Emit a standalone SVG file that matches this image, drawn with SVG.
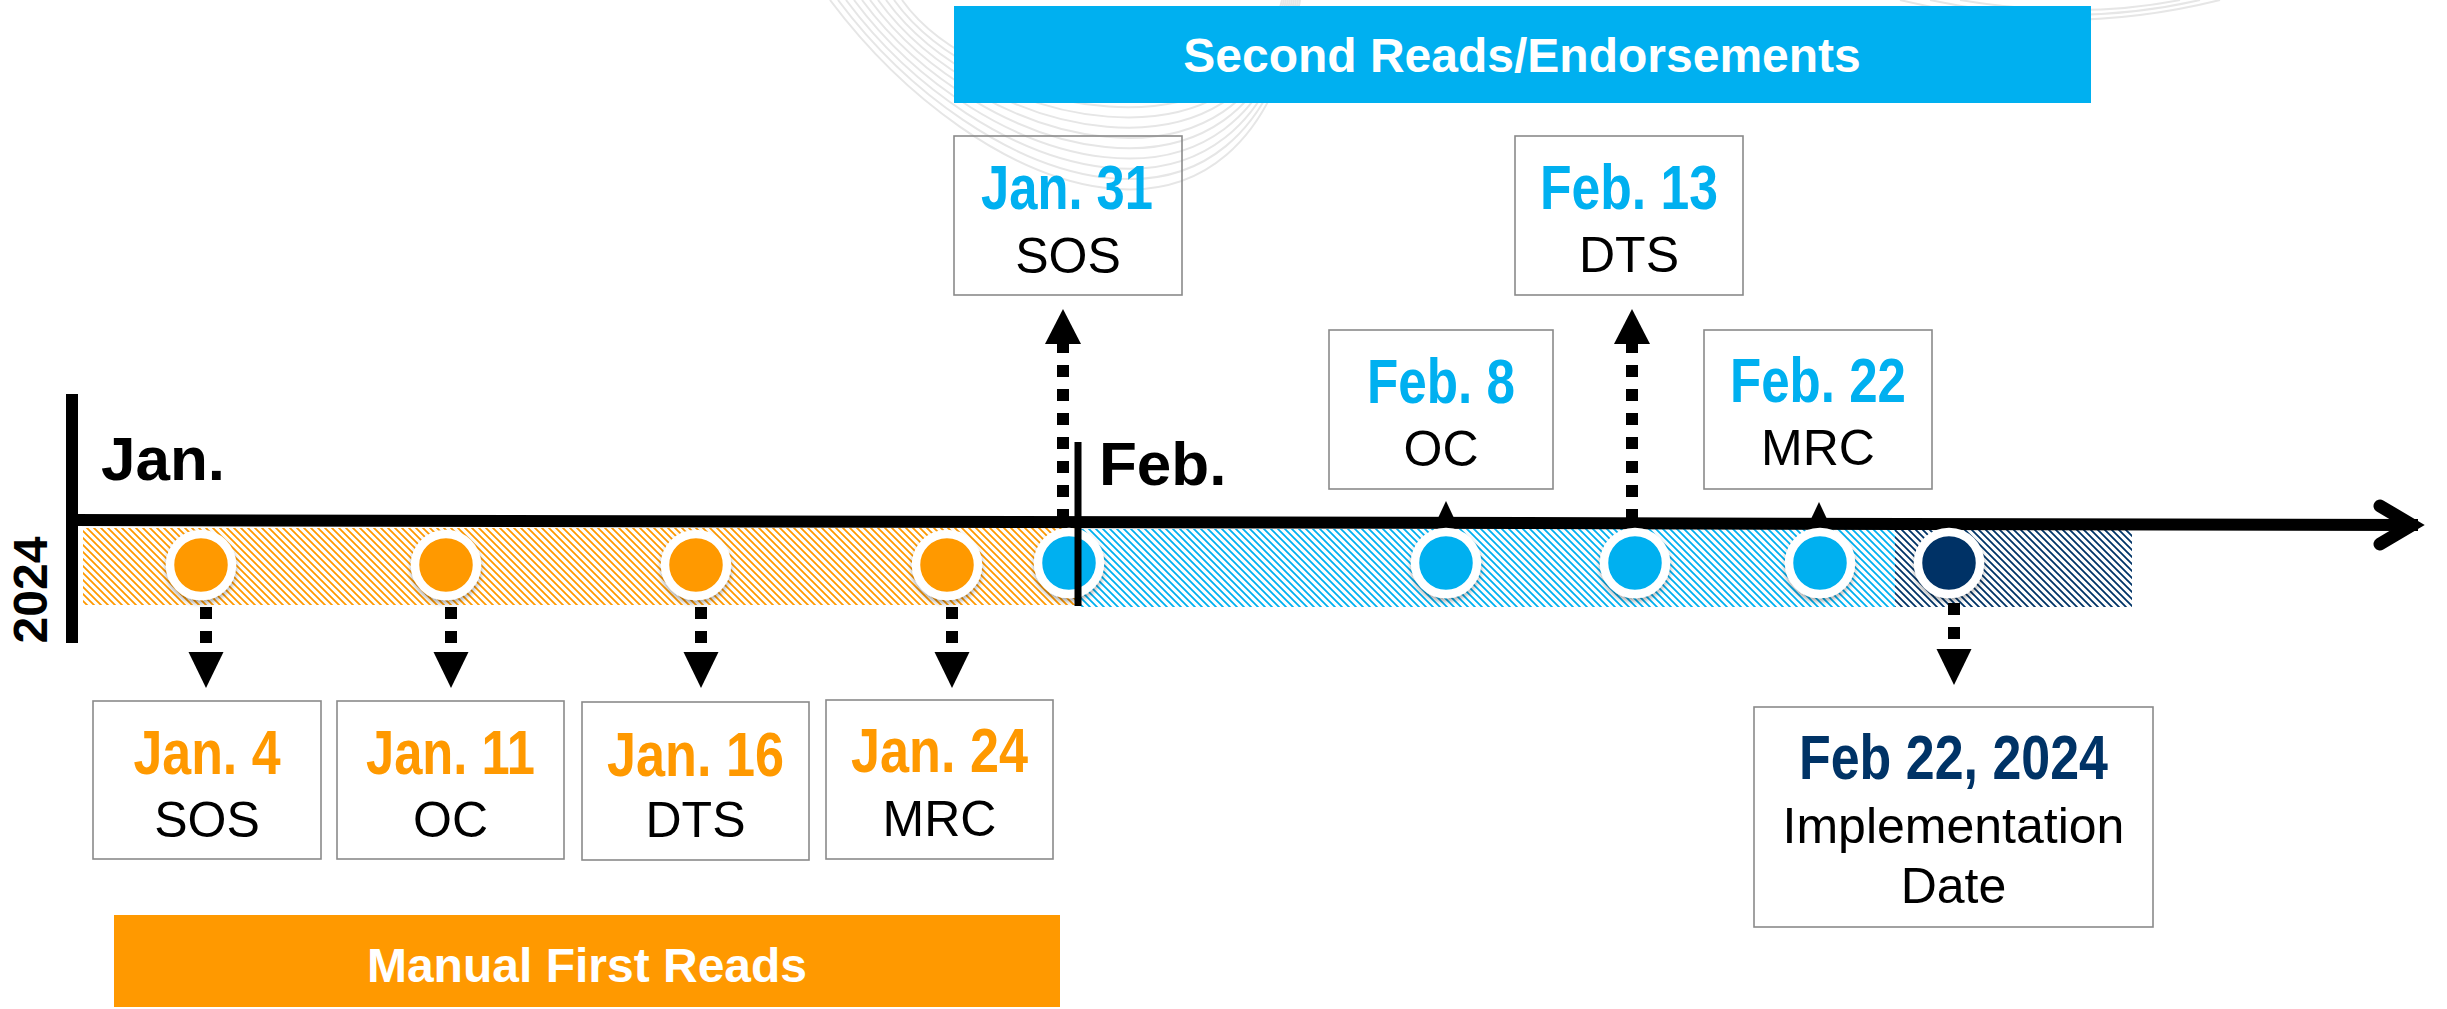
<svg xmlns="http://www.w3.org/2000/svg" width="2447" height="1009" viewBox="0 0 2447 1009">
<defs>
<style>
.bx{fill:none;stroke:#8a8a8a;stroke-width:1.6}
.d{font-family:"Liberation Sans Narrow","Liberation Sans",Arial,sans-serif;font-weight:bold;font-size:63px;text-anchor:middle}
.s{font-family:"Liberation Sans",Arial,sans-serif;font-size:50px;text-anchor:middle;fill:#000}
.m{font-family:"Liberation Sans",Arial,sans-serif;font-weight:bold;font-size:62px;fill:#000}
.yr{font-family:"Liberation Sans",Arial,sans-serif;font-weight:bold;font-size:48px;fill:#000;text-anchor:middle}
.bn{font-family:"Liberation Sans",Arial,sans-serif;font-weight:bold;font-size:48px;fill:#fff;text-anchor:middle}
.or{fill:#FF9900}.bl{fill:#00B0F0}.nv{fill:#003366}
.dash{stroke:#000;stroke-width:12;stroke-dasharray:12 12;fill:none}
.wm{fill:none;stroke:#e6e6e6;stroke-width:2}
.dot{stroke:#fff;stroke-width:8.5;filter:url(#sh)}
</style>
<filter id="sh" x="-50%" y="-50%" width="200%" height="200%">
<feDropShadow dx="0" dy="3" stdDeviation="2.5" flood-color="#000" flood-opacity="0.35"/>
</filter>
<pattern id="hO" patternUnits="userSpaceOnUse" width="7" height="7">
<path d="M-1,-1 L8,8 M-1,6 L1,8 M6,-1 L8,1" stroke="#FF9900" stroke-width="1.8"/>
</pattern>
<pattern id="hB" patternUnits="userSpaceOnUse" width="7" height="7">
<path d="M-1,-1 L8,8 M-1,6 L1,8 M6,-1 L8,1" stroke="#00B0F0" stroke-width="1.8"/>
</pattern>
<pattern id="hN" patternUnits="userSpaceOnUse" width="7" height="7">
<path d="M-1,-1 L8,8 M-1,6 L1,8 M6,-1 L8,1" stroke="#003366" stroke-width="1.8"/>
</pattern>
</defs>
<rect width="2447" height="1009" fill="#fff"/>
<g id="watermark">
<path class="wm" d="M830 0 C980 200 1250 300 1300 0"/>
<path class="wm" d="M838 0 C980 190 1250 283 1298 0"/>
<path class="wm" d="M846 0 C980 180 1250 266 1296 0"/>
<path class="wm" d="M854 0 C980 170 1250 249 1294 0"/>
<path class="wm" d="M862 0 C980 160 1250 232 1292 0"/>
<path class="wm" d="M870 0 C980 150 1250 215 1290 0"/>
<path class="wm" d="M878 0 C980 140 1250 198 1288 0"/>
<path class="wm" d="M886 0 C980 130 1250 181 1286 0"/>
<path class="wm" d="M894 0 C980 120 1250 164 1284 0"/>
<path class="wm" d="M902 0 C980 110 1250 147 1282 0"/>
<path class="wm" d="M1900 0 Q2060 40 2220 0"/>
<path class="wm" d="M1930 0 Q2070 30 2200 0"/>
<path class="wm" d="M1960 0 Q2080 20 2180 0"/>
</g>
<g id="banner-second">
<rect x="954" y="6" width="1137" height="97" fill="#00B0F0"/>
<text class="bn" x="1522" y="72">Second Reads/Endorsements</text>
</g>
<g id="banner-first">
<rect x="114" y="915" width="946" height="92" fill="#FF9900"/>
<text class="bn" x="587" y="982">Manual First Reads</text>
</g>
<g id="bands">
<rect x="83" y="528" width="994" height="77" fill="url(#hO)"/>
<rect x="1077" y="529" width="818" height="78" fill="url(#hB)"/>
<rect x="1895" y="530" width="237" height="77" fill="url(#hN)"/>
</g>
<g id="axis">
<line x1="72" y1="520" x2="2418" y2="525" stroke="#000" stroke-width="12"/>
<polyline points="2380,506 2412,525 2380,544" fill="none" stroke="#000" stroke-width="13" stroke-linecap="round" stroke-linejoin="miter"/>
<rect x="66" y="394" width="12" height="249" fill="#000"/>
<text class="m" x="101" y="480">Jan.</text>
<text class="m" x="1099" y="485">Feb.</text>
<text class="yr" transform="translate(47,590) rotate(-90)">2024</text>
</g>
<g id="connectors">
<line class="dash" x1="206" y1="607" x2="206" y2="643"/>
<polygon points="188.5,652 223.5,652 206,688"/>
<line class="dash" x1="451" y1="607" x2="451" y2="643"/>
<polygon points="433.5,652 468.5,652 451,688"/>
<line class="dash" x1="701" y1="607" x2="701" y2="643"/>
<polygon points="683.5,652 718.5,652 701,688"/>
<line class="dash" x1="952" y1="607" x2="952" y2="643"/>
<polygon points="934.5,652 969.5,652 952,688"/>
<line class="dash" x1="1954" y1="603" x2="1954" y2="639"/>
<polygon points="1936.5,649 1971.5,649 1954,685"/>
<line class="dash" x1="1063" y1="365" x2="1063" y2="518"/>
<rect x="1057" y="343" width="12" height="10"/>
<polygon points="1045,344 1081,344 1063,309"/>
<line class="dash" x1="1632" y1="365" x2="1632" y2="518"/>
<rect x="1626" y="343" width="12" height="10"/>
<polygon points="1614,344 1650,344 1632,309"/>
<polygon points="1438,518 1454,518 1446,501"/>
<polygon points="1811,519 1827,519 1819,502"/>
</g>
<g id="dots">
<circle class="dot or" cx="201" cy="565" r="31"/>
<circle class="dot or" cx="446" cy="565" r="31"/>
<circle class="dot or" cx="696" cy="565" r="31"/>
<circle class="dot or" cx="947" cy="565" r="31"/>
<circle class="dot bl" cx="1069" cy="563" r="31"/>
<circle class="dot bl" cx="1446" cy="563" r="31"/>
<circle class="dot bl" cx="1635" cy="563" r="31"/>
<circle class="dot bl" cx="1820" cy="563" r="31"/>
<circle class="dot nv" cx="1949" cy="563" r="31"/>
</g>
<line id="feb-tick" x1="1078" y1="442" x2="1078" y2="606" stroke="#000" stroke-width="7"/>
<g id="n-jan4">
<rect class="bx" x="93" y="701" width="228" height="158"/>
<text class="d or" x="207" y="774" textLength="147" lengthAdjust="spacingAndGlyphs">Jan. 4</text>
<text class="s" x="207" y="837">SOS</text>
</g>
<g id="n-jan11">
<rect class="bx" x="337" y="701" width="227" height="158"/>
<text class="d or" x="450.5" y="774" textLength="169" lengthAdjust="spacingAndGlyphs">Jan. 11</text>
<text class="s" x="450.5" y="837">OC</text>
</g>
<g id="n-jan16">
<rect class="bx" x="582" y="702" width="227" height="158"/>
<text class="d or" x="695.5" y="776" textLength="177" lengthAdjust="spacingAndGlyphs">Jan. 16</text>
<text class="s" x="695.5" y="837">DTS</text>
</g>
<g id="n-jan24">
<rect class="bx" x="826" y="700" width="227" height="159"/>
<text class="d or" x="939.5" y="772" textLength="177" lengthAdjust="spacingAndGlyphs">Jan. 24</text>
<text class="s" x="939.5" y="836">MRC</text>
</g>
<g id="n-jan31">
<rect class="bx" x="954" y="136" width="228" height="159"/>
<text class="d bl" x="1067" y="209" textLength="172" lengthAdjust="spacingAndGlyphs">Jan. 31</text>
<text class="s" x="1068" y="273">SOS</text>
</g>
<g id="n-feb8">
<rect class="bx" x="1329" y="330" width="224" height="159"/>
<text class="d bl" x="1441" y="403" textLength="148" lengthAdjust="spacingAndGlyphs">Feb. 8</text>
<text class="s" x="1441" y="466">OC</text>
</g>
<g id="n-feb13">
<rect class="bx" x="1515" y="136" width="228" height="159"/>
<text class="d bl" x="1629" y="209" textLength="178" lengthAdjust="spacingAndGlyphs">Feb. 13</text>
<text class="s" x="1629" y="272">DTS</text>
</g>
<g id="n-feb22">
<rect class="bx" x="1704" y="330" width="228" height="159"/>
<text class="d bl" x="1818" y="402" textLength="176" lengthAdjust="spacingAndGlyphs">Feb. 22</text>
<text class="s" x="1818" y="465">MRC</text>
</g>
<g id="n-impl">
<rect class="bx" x="1754" y="707" width="399" height="220"/>
<text class="d nv" x="1953.5" y="779" textLength="309" lengthAdjust="spacingAndGlyphs">Feb 22, 2024</text>
<text class="s" x="1953.5" y="843">Implementation</text>
<text class="s" x="1953.5" y="903">Date</text>
</g>
</svg>
